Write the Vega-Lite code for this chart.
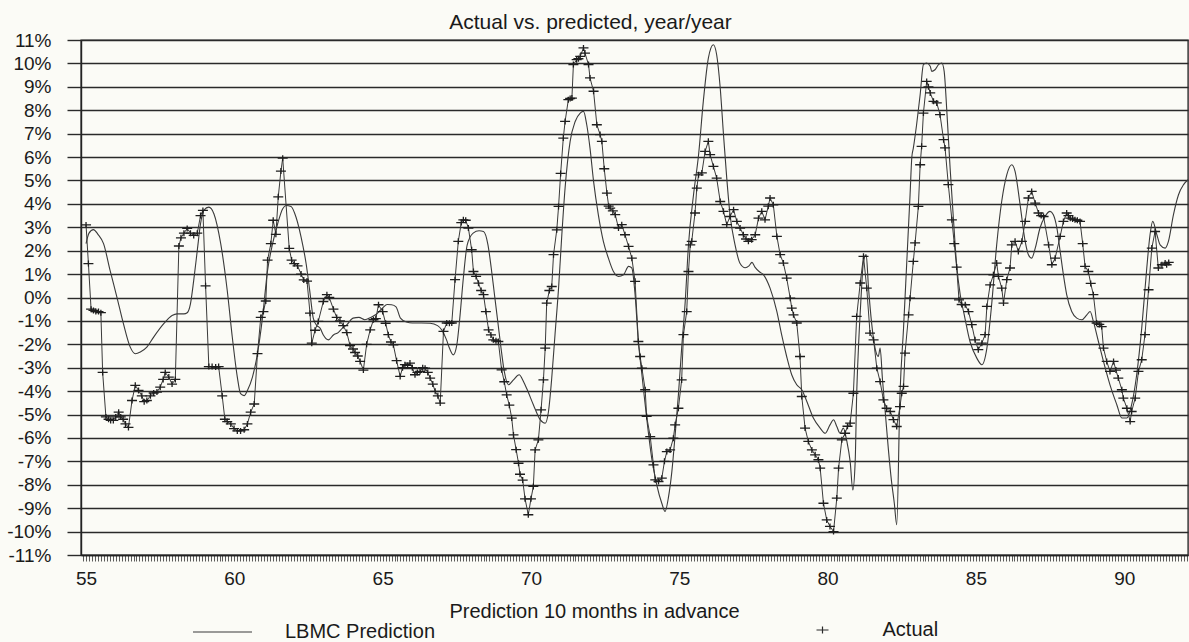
{
  "$schema": "https://vega.github.io/schema/vega-lite/v6.json",
  "width": 1107,
  "height": 515,
  "autosize": "none",
  "padding": {"left": 81, "top": 40, "right": 1, "bottom": 87},
  "background": "#fbfbf6",
  "title": {
    "text": "Actual vs. predicted, year/year",
    "font": "Liberation Sans",
    "fontSize": 21,
    "fontWeight": "normal",
    "color": "#1a1a1a",
    "anchor": "middle",
    "dx": -44,
    "dy": 6,
    "offset": 4
  },
  "config": {
    "font": "Liberation Sans",
    "view": {"stroke": "#2a2a2a", "strokeWidth": 1.4}
  },
  "datasets": {
    "prediction": [
      {"year": 55.0, "pct": 2.3}, {"year": 55.1, "pct": 2.75}, {"year": 55.25, "pct": 2.9}, {"year": 55.4, "pct": 2.7},
      {"year": 55.59, "pct": 2.3}, {"year": 55.81, "pct": 1.16}, {"year": 56.04, "pct": 0.02}, {"year": 56.26, "pct": -1.12},
      {"year": 56.49, "pct": -2.12}, {"year": 56.66, "pct": -2.4}, {"year": 56.83, "pct": -2.33}, {"year": 57.05, "pct": -2.12},
      {"year": 57.28, "pct": -1.69}, {"year": 57.62, "pct": -1.12}, {"year": 57.9, "pct": -0.77}, {"year": 58.07, "pct": -0.7},
      {"year": 58.3, "pct": -0.7}, {"year": 58.41, "pct": -0.65}, {"year": 58.52, "pct": -0.27}, {"year": 58.63, "pct": 0.73},
      {"year": 58.75, "pct": 2.01}, {"year": 58.86, "pct": 3.15}, {"year": 58.97, "pct": 3.72}, {"year": 59.14, "pct": 3.86},
      {"year": 59.31, "pct": 3.58}, {"year": 59.54, "pct": 2.3}, {"year": 59.76, "pct": 0.3}, {"year": 59.93, "pct": -1.69},
      {"year": 60.1, "pct": -3.4}, {"year": 60.21, "pct": -4.11}, {"year": 60.33, "pct": -4.19}, {"year": 60.44, "pct": -3.97},
      {"year": 60.61, "pct": -3.4}, {"year": 60.78, "pct": -2.4}, {"year": 60.95, "pct": -0.84}, {"year": 61.12, "pct": 1.16},
      {"year": 61.29, "pct": 2.3}, {"year": 61.46, "pct": 3.15}, {"year": 61.63, "pct": 3.79}, {"year": 61.74, "pct": 3.93},
      {"year": 61.91, "pct": 3.89}, {"year": 62.08, "pct": 3.43}, {"year": 62.25, "pct": 2.58}, {"year": 62.42, "pct": 1.44},
      {"year": 62.55, "pct": 0.2}, {"year": 62.66, "pct": -0.88}, {"year": 62.78, "pct": -1.2}, {"year": 62.89, "pct": -1.31},
      {"year": 63.0, "pct": -1.6}, {"year": 63.17, "pct": -1.81}, {"year": 63.34, "pct": -1.6}, {"year": 63.5, "pct": -1.5},
      {"year": 63.65, "pct": -1.3}, {"year": 63.79, "pct": -1.17}, {"year": 64.0, "pct": -0.88}, {"year": 64.2, "pct": -0.85},
      {"year": 64.4, "pct": -0.95}, {"year": 64.6, "pct": -0.85}, {"year": 64.8, "pct": -0.7}, {"year": 65.0, "pct": -0.45},
      {"year": 65.15, "pct": -0.3}, {"year": 65.3, "pct": -0.31}, {"year": 65.45, "pct": -0.4}, {"year": 65.6, "pct": -0.88},
      {"year": 65.8, "pct": -1.05}, {"year": 66.0, "pct": -1.09}, {"year": 66.3, "pct": -1.09}, {"year": 66.6, "pct": -1.1},
      {"year": 66.85, "pct": -1.2}, {"year": 67.0, "pct": -1.4}, {"year": 67.15, "pct": -1.8}, {"year": 67.25, "pct": -2.16},
      {"year": 67.38, "pct": -2.45}, {"year": 67.5, "pct": -2.02}, {"year": 67.6, "pct": -0.88}, {"year": 67.72, "pct": 0.83},
      {"year": 67.85, "pct": 2.25}, {"year": 68.05, "pct": 2.75}, {"year": 68.25, "pct": 2.85}, {"year": 68.4, "pct": 2.82},
      {"year": 68.55, "pct": 2.25}, {"year": 68.66, "pct": 1.26}, {"year": 68.77, "pct": 0.12}, {"year": 68.88, "pct": -1.02},
      {"year": 68.99, "pct": -2.16}, {"year": 69.1, "pct": -3.16}, {"year": 69.24, "pct": -3.73}, {"year": 69.41, "pct": -3.52},
      {"year": 69.6, "pct": -3.3}, {"year": 69.75, "pct": -3.6}, {"year": 69.86, "pct": -3.9}, {"year": 70.08, "pct": -4.58},
      {"year": 70.31, "pct": -5.22}, {"year": 70.48, "pct": -5.37}, {"year": 70.59, "pct": -4.87}, {"year": 70.7, "pct": -3.44},
      {"year": 70.81, "pct": -1.59}, {"year": 70.93, "pct": 0.4}, {"year": 71.04, "pct": 2.68}, {"year": 71.15, "pct": 4.68},
      {"year": 71.32, "pct": 6.67}, {"year": 71.49, "pct": 7.52}, {"year": 71.66, "pct": 7.88}, {"year": 71.77, "pct": 7.95},
      {"year": 71.88, "pct": 7.38}, {"year": 71.99, "pct": 6.38}, {"year": 72.11, "pct": 4.96}, {"year": 72.27, "pct": 3.54},
      {"year": 72.44, "pct": 2.4}, {"year": 72.61, "pct": 1.68}, {"year": 72.78, "pct": 1.11}, {"year": 72.95, "pct": 0.9},
      {"year": 73.12, "pct": 0.97}, {"year": 73.29, "pct": 1.33}, {"year": 73.4, "pct": 1.26}, {"year": 73.51, "pct": 0.12},
      {"year": 73.62, "pct": -1.88}, {"year": 73.74, "pct": -3.3}, {"year": 73.9, "pct": -5.15}, {"year": 74.07, "pct": -6.86},
      {"year": 74.24, "pct": -8.0}, {"year": 74.41, "pct": -8.79}, {"year": 74.52, "pct": -9.14}, {"year": 74.63, "pct": -8.57},
      {"year": 74.75, "pct": -7.43}, {"year": 74.86, "pct": -5.87}, {"year": 74.97, "pct": -4.16}, {"year": 75.08, "pct": -2.16},
      {"year": 75.2, "pct": -0.17}, {"year": 75.31, "pct": 2.25}, {"year": 75.48, "pct": 4.39}, {"year": 75.65, "pct": 6.1},
      {"year": 75.81, "pct": 8.38}, {"year": 75.98, "pct": 10.23}, {"year": 76.15, "pct": 10.8}, {"year": 76.26, "pct": 10.37},
      {"year": 76.38, "pct": 8.95}, {"year": 76.49, "pct": 6.96}, {"year": 76.6, "pct": 5.1}, {"year": 76.71, "pct": 3.54},
      {"year": 76.88, "pct": 2.25}, {"year": 77.05, "pct": 1.45}, {"year": 77.22, "pct": 1.27}, {"year": 77.35, "pct": 1.35},
      {"year": 77.45, "pct": 1.5}, {"year": 77.55, "pct": 1.3}, {"year": 77.7, "pct": 1.1}, {"year": 77.84, "pct": 0.97},
      {"year": 78.06, "pct": 0.4}, {"year": 78.29, "pct": -0.6}, {"year": 78.45, "pct": -1.59}, {"year": 78.62, "pct": -2.52},
      {"year": 78.79, "pct": -3.3}, {"year": 78.96, "pct": -3.73}, {"year": 79.13, "pct": -3.94}, {"year": 79.3, "pct": -4.44},
      {"year": 79.52, "pct": -5.15}, {"year": 79.75, "pct": -5.58}, {"year": 79.92, "pct": -5.8}, {"year": 80.08, "pct": -5.44},
      {"year": 80.2, "pct": -5.22}, {"year": 80.31, "pct": -5.51}, {"year": 80.42, "pct": -5.8}, {"year": 80.53, "pct": -5.58},
      {"year": 80.65, "pct": -6.15}, {"year": 80.76, "pct": -7.0}, {"year": 80.85, "pct": -8.22}, {"year": 80.93, "pct": -7.0},
      {"year": 80.98, "pct": -4.16}, {"year": 81.04, "pct": -2.16}, {"year": 81.12, "pct": -0.17}, {"year": 81.21, "pct": 1.54},
      {"year": 81.3, "pct": 1.83}, {"year": 81.38, "pct": 0.4}, {"year": 81.49, "pct": -1.16}, {"year": 81.6, "pct": -2.16},
      {"year": 81.71, "pct": -2.52}, {"year": 81.77, "pct": -2.16}, {"year": 81.85, "pct": -3.5}, {"year": 81.95, "pct": -5.0},
      {"year": 82.05, "pct": -6.5}, {"year": 82.15, "pct": -7.8}, {"year": 82.25, "pct": -8.8}, {"year": 82.33, "pct": -9.71},
      {"year": 82.44, "pct": -4.16}, {"year": 82.56, "pct": -1.31}, {"year": 82.67, "pct": 1.54}, {"year": 82.78, "pct": 4.39},
      {"year": 82.84, "pct": 6.0}, {"year": 82.89, "pct": 6.38}, {"year": 83.0, "pct": 7.38}, {"year": 83.12, "pct": 8.66},
      {"year": 83.23, "pct": 9.95}, {"year": 83.34, "pct": 10.02}, {"year": 83.46, "pct": 9.88}, {"year": 83.51, "pct": 9.66},
      {"year": 83.62, "pct": 9.73}, {"year": 83.74, "pct": 9.95}, {"year": 83.85, "pct": 10.02}, {"year": 83.93, "pct": 9.66},
      {"year": 84.02, "pct": 7.95}, {"year": 84.13, "pct": 5.53}, {"year": 84.24, "pct": 3.39}, {"year": 84.35, "pct": 1.4},
      {"year": 84.47, "pct": 0.12}, {"year": 84.6, "pct": -0.7}, {"year": 84.8, "pct": -1.88}, {"year": 85.03, "pct": -2.59},
      {"year": 85.2, "pct": -2.87}, {"year": 85.37, "pct": -2.16}, {"year": 85.53, "pct": -0.31}, {"year": 85.7, "pct": 2.25},
      {"year": 85.87, "pct": 4.11}, {"year": 86.04, "pct": 5.24}, {"year": 86.21, "pct": 5.67}, {"year": 86.32, "pct": 5.39},
      {"year": 86.49, "pct": 3.96}, {"year": 86.66, "pct": 2.4}, {"year": 86.77, "pct": 1.83}, {"year": 86.88, "pct": 1.68},
      {"year": 87.0, "pct": 2.11}, {"year": 87.16, "pct": 2.97}, {"year": 87.33, "pct": 3.46}, {"year": 87.5, "pct": 3.68},
      {"year": 87.61, "pct": 3.54}, {"year": 87.73, "pct": 2.97}, {"year": 87.84, "pct": 1.97}, {"year": 87.95, "pct": 0.97},
      {"year": 88.06, "pct": 0.12}, {"year": 88.23, "pct": -0.6}, {"year": 88.4, "pct": -0.88}, {"year": 88.57, "pct": -0.95},
      {"year": 88.74, "pct": -0.74}, {"year": 88.85, "pct": -0.6}, {"year": 88.96, "pct": -1.02}, {"year": 89.13, "pct": -1.88},
      {"year": 89.3, "pct": -2.73}, {"year": 89.52, "pct": -3.73}, {"year": 89.75, "pct": -4.58}, {"year": 89.92, "pct": -5.15},
      {"year": 90.09, "pct": -5.15}, {"year": 90.25, "pct": -4.58}, {"year": 90.42, "pct": -3.3}, {"year": 90.59, "pct": -1.31},
      {"year": 90.76, "pct": 1.26}, {"year": 90.87, "pct": 2.68}, {"year": 90.96, "pct": 3.25}, {"year": 91.1, "pct": 2.68},
      {"year": 91.21, "pct": 2.25}, {"year": 91.38, "pct": 2.11}, {"year": 91.49, "pct": 2.4}, {"year": 91.66, "pct": 3.54},
      {"year": 91.83, "pct": 4.39}, {"year": 92.0, "pct": 4.82}, {"year": 92.15, "pct": 5.03}
    ],
    "actual": [
      {"year": 55.0, "pct": 3.1}, {"year": 55.08, "pct": 1.45}, {"year": 55.17, "pct": -0.5}, {"year": 55.25, "pct": -0.55},
      {"year": 55.33, "pct": -0.6}, {"year": 55.42, "pct": -0.6}, {"year": 55.5, "pct": -0.65}, {"year": 55.56, "pct": -3.2},
      {"year": 55.67, "pct": -5.1}, {"year": 55.76, "pct": -5.2}, {"year": 55.83, "pct": -5.25}, {"year": 55.92, "pct": -5.25},
      {"year": 56.0, "pct": -5.1}, {"year": 56.1, "pct": -4.9}, {"year": 56.17, "pct": -5.1}, {"year": 56.25, "pct": -5.2},
      {"year": 56.33, "pct": -5.4}, {"year": 56.43, "pct": -5.55}, {"year": 56.55, "pct": -4.4}, {"year": 56.66, "pct": -3.75},
      {"year": 56.77, "pct": -3.97}, {"year": 56.88, "pct": -4.2}, {"year": 56.96, "pct": -4.45}, {"year": 57.05, "pct": -4.4},
      {"year": 57.17, "pct": -4.2}, {"year": 57.28, "pct": -4.08}, {"year": 57.39, "pct": -4.04}, {"year": 57.5, "pct": -3.83},
      {"year": 57.6, "pct": -3.5}, {"year": 57.67, "pct": -3.2}, {"year": 57.79, "pct": -3.4}, {"year": 57.9, "pct": -3.7},
      {"year": 58.01, "pct": -3.5}, {"year": 58.13, "pct": 2.2}, {"year": 58.2, "pct": 2.55}, {"year": 58.3, "pct": 2.75},
      {"year": 58.41, "pct": 2.95}, {"year": 58.52, "pct": 2.75}, {"year": 58.63, "pct": 2.65}, {"year": 58.75, "pct": 2.75},
      {"year": 58.86, "pct": 3.5}, {"year": 58.94, "pct": 3.72}, {"year": 59.03, "pct": 0.5}, {"year": 59.14, "pct": -2.95},
      {"year": 59.25, "pct": -2.95}, {"year": 59.37, "pct": -2.97}, {"year": 59.47, "pct": -2.95}, {"year": 59.59, "pct": -4.2},
      {"year": 59.68, "pct": -5.2}, {"year": 59.76, "pct": -5.3}, {"year": 59.88, "pct": -5.4}, {"year": 59.99, "pct": -5.6},
      {"year": 60.1, "pct": -5.7}, {"year": 60.21, "pct": -5.7}, {"year": 60.33, "pct": -5.65}, {"year": 60.44, "pct": -5.4},
      {"year": 60.55, "pct": -4.9}, {"year": 60.67, "pct": -4.55}, {"year": 60.78, "pct": -2.4}, {"year": 60.89, "pct": -0.85},
      {"year": 60.98, "pct": -0.6}, {"year": 61.06, "pct": -0.15}, {"year": 61.12, "pct": 1.6}, {"year": 61.23, "pct": 2.3},
      {"year": 61.31, "pct": 3.3}, {"year": 61.4, "pct": 2.7}, {"year": 61.48, "pct": 4.3}, {"year": 61.57, "pct": 5.4},
      {"year": 61.63, "pct": 5.95}, {"year": 61.85, "pct": 2.1}, {"year": 61.93, "pct": 1.6}, {"year": 62.02, "pct": 1.45},
      {"year": 62.13, "pct": 1.35}, {"year": 62.25, "pct": 1.0}, {"year": 62.34, "pct": 0.75}, {"year": 62.45, "pct": 0.7},
      {"year": 62.55, "pct": -0.67}, {"year": 62.61, "pct": -1.95}, {"year": 62.72, "pct": -1.4}, {"year": 62.83, "pct": -1.02},
      {"year": 63.0, "pct": -0.17}, {"year": 63.12, "pct": 0.12}, {"year": 63.2, "pct": 0.0}, {"year": 63.34, "pct": -0.5},
      {"year": 63.45, "pct": -0.85}, {"year": 63.56, "pct": -1.0}, {"year": 63.67, "pct": -1.2}, {"year": 63.79, "pct": -1.5},
      {"year": 63.9, "pct": -2.05}, {"year": 64.0, "pct": -2.2}, {"year": 64.07, "pct": -2.35}, {"year": 64.16, "pct": -2.5},
      {"year": 64.24, "pct": -2.73}, {"year": 64.35, "pct": -3.1}, {"year": 64.46, "pct": -2.0}, {"year": 64.58, "pct": -1.38},
      {"year": 64.69, "pct": -0.95}, {"year": 64.77, "pct": -0.9}, {"year": 64.86, "pct": -0.31}, {"year": 65.0, "pct": -0.6},
      {"year": 65.1, "pct": -1.1}, {"year": 65.19, "pct": -1.59}, {"year": 65.28, "pct": -1.9}, {"year": 65.36, "pct": -2.02},
      {"year": 65.47, "pct": -2.7}, {"year": 65.59, "pct": -3.37}, {"year": 65.67, "pct": -3.0}, {"year": 65.75, "pct": -2.87},
      {"year": 65.84, "pct": -2.9}, {"year": 65.92, "pct": -2.8}, {"year": 66.0, "pct": -3.0}, {"year": 66.09, "pct": -3.3},
      {"year": 66.17, "pct": -3.2}, {"year": 66.26, "pct": -3.16}, {"year": 66.35, "pct": -3.0}, {"year": 66.43, "pct": -3.02},
      {"year": 66.52, "pct": -3.2}, {"year": 66.6, "pct": -3.44}, {"year": 66.69, "pct": -3.7}, {"year": 66.77, "pct": -4.01},
      {"year": 66.86, "pct": -4.2}, {"year": 66.94, "pct": -4.51}, {"year": 67.05, "pct": -1.45}, {"year": 67.16, "pct": -1.09},
      {"year": 67.25, "pct": -1.1}, {"year": 67.33, "pct": -1.09}, {"year": 67.44, "pct": 0.76}, {"year": 67.55, "pct": 2.4},
      {"year": 67.65, "pct": 3.2}, {"year": 67.72, "pct": 3.32}, {"year": 67.8, "pct": 3.3}, {"year": 67.89, "pct": 2.97},
      {"year": 68.0, "pct": 2.04}, {"year": 68.06, "pct": 1.11}, {"year": 68.15, "pct": 0.9}, {"year": 68.23, "pct": 0.61},
      {"year": 68.32, "pct": 0.3}, {"year": 68.4, "pct": 0.12}, {"year": 68.48, "pct": -0.6}, {"year": 68.57, "pct": -1.38},
      {"year": 68.65, "pct": -1.6}, {"year": 68.73, "pct": -1.81}, {"year": 68.82, "pct": -1.85}, {"year": 68.9, "pct": -1.88},
      {"year": 69.01, "pct": -3.09}, {"year": 69.1, "pct": -3.6}, {"year": 69.18, "pct": -4.16}, {"year": 69.27, "pct": -4.6},
      {"year": 69.35, "pct": -5.15}, {"year": 69.41, "pct": -5.87}, {"year": 69.5, "pct": -6.5}, {"year": 69.58, "pct": -7.08},
      {"year": 69.63, "pct": -7.55}, {"year": 69.72, "pct": -7.8}, {"year": 69.8, "pct": -8.6}, {"year": 69.91, "pct": -9.28},
      {"year": 70.0, "pct": -8.6}, {"year": 70.08, "pct": -8.07}, {"year": 70.14, "pct": -6.51}, {"year": 70.25, "pct": -6.08},
      {"year": 70.34, "pct": -4.8}, {"year": 70.42, "pct": -3.52}, {"year": 70.48, "pct": -2.16}, {"year": 70.53, "pct": -0.24},
      {"year": 70.62, "pct": 0.3}, {"year": 70.7, "pct": 0.47}, {"year": 70.76, "pct": 1.83}, {"year": 70.87, "pct": 2.89},
      {"year": 70.93, "pct": 3.89}, {"year": 71.0, "pct": 5.3}, {"year": 71.09, "pct": 6.81}, {"year": 71.15, "pct": 7.52},
      {"year": 71.26, "pct": 8.45}, {"year": 71.32, "pct": 8.5}, {"year": 71.38, "pct": 8.52}, {"year": 71.43, "pct": 9.95},
      {"year": 71.54, "pct": 10.16}, {"year": 71.6, "pct": 10.2}, {"year": 71.66, "pct": 10.3}, {"year": 71.77, "pct": 10.66},
      {"year": 71.82, "pct": 10.44}, {"year": 71.94, "pct": 9.95}, {"year": 71.99, "pct": 9.38}, {"year": 72.11, "pct": 8.81},
      {"year": 72.22, "pct": 7.38}, {"year": 72.33, "pct": 6.96}, {"year": 72.39, "pct": 6.67}, {"year": 72.47, "pct": 5.5},
      {"year": 72.56, "pct": 4.46}, {"year": 72.62, "pct": 3.9}, {"year": 72.67, "pct": 3.82}, {"year": 72.76, "pct": 3.7},
      {"year": 72.84, "pct": 3.54}, {"year": 72.95, "pct": 2.97}, {"year": 73.06, "pct": 3.11}, {"year": 73.17, "pct": 2.68},
      {"year": 73.29, "pct": 2.18}, {"year": 73.4, "pct": 1.68}, {"year": 73.51, "pct": 0.69}, {"year": 73.62, "pct": -1.88},
      {"year": 73.68, "pct": -2.52}, {"year": 73.74, "pct": -3.02}, {"year": 73.85, "pct": -3.94}, {"year": 73.9, "pct": -5.08},
      {"year": 74.02, "pct": -5.94}, {"year": 74.13, "pct": -7.15}, {"year": 74.19, "pct": -7.79}, {"year": 74.3, "pct": -7.86},
      {"year": 74.41, "pct": -7.72}, {"year": 74.5, "pct": -7.0}, {"year": 74.58, "pct": -6.58}, {"year": 74.69, "pct": -6.51},
      {"year": 74.8, "pct": -6.01}, {"year": 74.86, "pct": -5.44}, {"year": 74.97, "pct": -4.73}, {"year": 75.08, "pct": -3.52},
      {"year": 75.14, "pct": -1.59}, {"year": 75.25, "pct": -0.6}, {"year": 75.31, "pct": 1.11}, {"year": 75.37, "pct": 2.25},
      {"year": 75.42, "pct": 2.4}, {"year": 75.53, "pct": 3.61}, {"year": 75.59, "pct": 4.67}, {"year": 75.65, "pct": 5.24},
      {"year": 75.76, "pct": 5.32}, {"year": 75.87, "pct": 6.24}, {"year": 75.98, "pct": 6.67}, {"year": 76.04, "pct": 6.1},
      {"year": 76.15, "pct": 5.6}, {"year": 76.26, "pct": 5.1}, {"year": 76.38, "pct": 4.1}, {"year": 76.49, "pct": 3.68},
      {"year": 76.6, "pct": 3.11}, {"year": 76.71, "pct": 3.46}, {"year": 76.83, "pct": 3.75}, {"year": 76.94, "pct": 3.25},
      {"year": 77.05, "pct": 2.97}, {"year": 77.16, "pct": 2.68}, {"year": 77.25, "pct": 2.5}, {"year": 77.33, "pct": 2.4},
      {"year": 77.44, "pct": 2.47}, {"year": 77.56, "pct": 2.68}, {"year": 77.67, "pct": 3.39}, {"year": 77.78, "pct": 3.68},
      {"year": 77.89, "pct": 3.32}, {"year": 78.0, "pct": 3.9}, {"year": 78.06, "pct": 4.25}, {"year": 78.17, "pct": 3.96},
      {"year": 78.29, "pct": 2.61}, {"year": 78.4, "pct": 1.83}, {"year": 78.51, "pct": 1.47}, {"year": 78.62, "pct": 0.83},
      {"year": 78.74, "pct": -0.03}, {"year": 78.79, "pct": -0.45}, {"year": 78.85, "pct": -0.74}, {"year": 78.96, "pct": -1.09},
      {"year": 79.07, "pct": -2.52}, {"year": 79.13, "pct": -4.23}, {"year": 79.24, "pct": -5.58}, {"year": 79.35, "pct": -6.15},
      {"year": 79.47, "pct": -6.51}, {"year": 79.58, "pct": -6.72}, {"year": 79.69, "pct": -6.93}, {"year": 79.75, "pct": -7.29},
      {"year": 79.86, "pct": -8.79}, {"year": 79.97, "pct": -9.5}, {"year": 80.08, "pct": -9.78}, {"year": 80.2, "pct": -10.0},
      {"year": 80.31, "pct": -8.57}, {"year": 80.37, "pct": -7.29}, {"year": 80.48, "pct": -6.08}, {"year": 80.59, "pct": -5.8},
      {"year": 80.67, "pct": -5.5}, {"year": 80.76, "pct": -5.37}, {"year": 80.87, "pct": -4.09}, {"year": 80.98, "pct": -0.81},
      {"year": 81.1, "pct": 0.62}, {"year": 81.21, "pct": 1.76}, {"year": 81.32, "pct": 0.4}, {"year": 81.43, "pct": -1.52},
      {"year": 81.55, "pct": -1.81}, {"year": 81.66, "pct": -3.02}, {"year": 81.77, "pct": -3.59}, {"year": 81.88, "pct": -4.37},
      {"year": 81.99, "pct": -4.73}, {"year": 82.11, "pct": -4.87}, {"year": 82.22, "pct": -5.22}, {"year": 82.33, "pct": -5.51},
      {"year": 82.44, "pct": -4.66}, {"year": 82.5, "pct": -4.09}, {"year": 82.56, "pct": -3.8}, {"year": 82.61, "pct": -2.38},
      {"year": 82.73, "pct": -0.74}, {"year": 82.78, "pct": -0.03}, {"year": 82.89, "pct": 1.54}, {"year": 82.95, "pct": 2.33},
      {"year": 83.06, "pct": 3.89}, {"year": 83.12, "pct": 5.67}, {"year": 83.17, "pct": 6.46}, {"year": 83.23, "pct": 7.88},
      {"year": 83.34, "pct": 9.23}, {"year": 83.4, "pct": 9.0}, {"year": 83.46, "pct": 8.74}, {"year": 83.57, "pct": 8.38},
      {"year": 83.68, "pct": 8.31}, {"year": 83.79, "pct": 7.81}, {"year": 83.91, "pct": 6.74}, {"year": 83.96, "pct": 6.39},
      {"year": 84.07, "pct": 4.82}, {"year": 84.19, "pct": 3.32}, {"year": 84.27, "pct": 2.3}, {"year": 84.35, "pct": 1.3},
      {"year": 84.43, "pct": -0.1}, {"year": 84.52, "pct": -0.3}, {"year": 84.64, "pct": -0.31}, {"year": 84.75, "pct": -0.6},
      {"year": 84.86, "pct": -1.16}, {"year": 84.97, "pct": -1.81}, {"year": 85.08, "pct": -2.23}, {"year": 85.2, "pct": -1.95},
      {"year": 85.31, "pct": -1.59}, {"year": 85.37, "pct": -0.38}, {"year": 85.48, "pct": 0.54}, {"year": 85.59, "pct": 0.97},
      {"year": 85.7, "pct": 1.47}, {"year": 85.76, "pct": 0.9}, {"year": 85.87, "pct": 0.4}, {"year": 85.93, "pct": -0.24},
      {"year": 86.04, "pct": 0.76}, {"year": 86.15, "pct": 1.26}, {"year": 86.21, "pct": 2.25}, {"year": 86.32, "pct": 2.4},
      {"year": 86.43, "pct": 1.97}, {"year": 86.55, "pct": 2.4}, {"year": 86.66, "pct": 3.25}, {"year": 86.77, "pct": 4.25},
      {"year": 86.88, "pct": 4.53}, {"year": 87.0, "pct": 4.03}, {"year": 87.11, "pct": 3.61}, {"year": 87.2, "pct": 3.5},
      {"year": 87.28, "pct": 3.46}, {"year": 87.45, "pct": 2.25}, {"year": 87.56, "pct": 1.4}, {"year": 87.67, "pct": 1.68},
      {"year": 87.84, "pct": 2.61}, {"year": 87.95, "pct": 3.25}, {"year": 88.06, "pct": 3.61}, {"year": 88.12, "pct": 3.5},
      {"year": 88.18, "pct": 3.39}, {"year": 88.26, "pct": 3.35}, {"year": 88.34, "pct": 3.32}, {"year": 88.42, "pct": 3.3},
      {"year": 88.51, "pct": 3.25}, {"year": 88.6, "pct": 2.3}, {"year": 88.68, "pct": 1.33}, {"year": 88.79, "pct": 1.11},
      {"year": 88.87, "pct": 0.6}, {"year": 88.96, "pct": 0.12}, {"year": 89.07, "pct": -1.09}, {"year": 89.16, "pct": -1.15},
      {"year": 89.24, "pct": -1.24}, {"year": 89.3, "pct": -2.16}, {"year": 89.41, "pct": -2.73}, {"year": 89.52, "pct": -3.16},
      {"year": 89.64, "pct": -2.73}, {"year": 89.72, "pct": -3.1}, {"year": 89.8, "pct": -3.44}, {"year": 89.92, "pct": -3.94},
      {"year": 89.97, "pct": -4.3}, {"year": 90.09, "pct": -4.73}, {"year": 90.2, "pct": -5.3}, {"year": 90.25, "pct": -4.87},
      {"year": 90.37, "pct": -4.3}, {"year": 90.48, "pct": -3.16}, {"year": 90.59, "pct": -2.66}, {"year": 90.7, "pct": -1.59},
      {"year": 90.82, "pct": 0.33}, {"year": 90.93, "pct": 2.11}, {"year": 91.04, "pct": 2.82}, {"year": 91.15, "pct": 1.26},
      {"year": 91.27, "pct": 1.4}, {"year": 91.38, "pct": 1.47}, {"year": 91.43, "pct": 1.4}, {"year": 91.5, "pct": 1.5}
    ]
  },
  "encoding": {
    "x": {
      "field": "year",
      "type": "quantitative",
      "scale": {"domain": [54.83, 92.15], "nice": false, "zero": false},
      "axis": {
        "tickCount": 380,
        "labelExpr": "abs(datum.value / 5 - round(datum.value / 5)) < 0.01 ? format(round(datum.value), 'd') : ''",
        "labelOverlap": false,
        "labelFlush": false,
        "labelBound": false,
        "grid": false,
        "tickSize": 6,
        "tickWidth": 0.8,
        "tickColor": "#333333",
        "domainColor": "#222222",
        "domainWidth": 1.4,
        "labelFont": "Liberation Sans",
        "labelFontSize": 19,
        "labelPadding": 8,
        "labelColor": "#1a1a1a",
        "title": "Prediction 10 months in advance",
        "titleFont": "Liberation Sans",
        "titleFontSize": 20,
        "titleFontWeight": "normal",
        "titleColor": "#1a1a1a",
        "titleX": 513,
        "titleY": 62,
        "titleAlign": "center",
        "titleBaseline": "alphabetic"
      }
    },
    "y": {
      "field": "pct",
      "type": "quantitative",
      "scale": {"domain": [-11, 11], "nice": false, "zero": false},
      "axis": {
        "values": [-11, -10, -9, -8, -7, -6, -5, -4, -3, -2, -1, 0, 1, 2, 3, 4, 5, 6, 7, 8, 9, 10, 11],
        "labelExpr": "datum.value + '%'",
        "grid": true,
        "gridColor": "#2a2a2a",
        "gridWidth": 1.4,
        "tickSize": 14,
        "tickColor": "#2a2a2a",
        "tickWidth": 1.4,
        "domainColor": "#222222",
        "domainWidth": 1.4,
        "labelFont": "Liberation Sans",
        "labelFontSize": 19,
        "labelPadding": 16,
        "labelColor": "#1a1a1a",
        "title": null
      }
    }
  },
  "layer": [
    {
      "data": {"name": "prediction"},
      "mark": {"type": "line", "strokeWidth": 1.1, "interpolate": "monotone"},
      "encoding": {
        "color": {
          "datum": "LBMC Prediction",
          "type": "nominal",
          "scale": {"range": ["#3a3a3a"]},
          "legend": {
            "orient": "none",
            "legendX": 111,
            "legendY": 561.5,
            "title": null,
            "padding": 0,
            "symbolType": "stroke",
            "symbolSize": 3481,
            "symbolStrokeWidth": 1.2,
            "symbolStrokeColor": "#2a2a2a",
            "labelFont": "Liberation Sans",
            "labelFontSize": 20,
            "labelColor": "#1a1a1a",
            "labelOffset": 32,
            "labelLimit": 400
          }
        }
      }
    },
    {
      "data": {"name": "actual"},
      "mark": {"type": "line", "strokeWidth": 1.0, "color": "#3a3a3a"},
      "encoding": {}
    },
    {
      "data": {"name": "actual"},
      "mark": {"type": "point", "filled": false, "size": 100, "strokeWidth": 1.3, "color": "#1e1e1e", "opacity": 1},
      "encoding": {
        "shape": {
          "datum": "Actual",
          "type": "nominal",
          "scale": {"range": ["M-1,0L1,0M0,-0.6L0,0.6"]},
          "legend": {
            "orient": "none",
            "legendX": 731.5,
            "legendY": 580,
            "title": null,
            "padding": 0,
            "symbolSize": 144,
            "symbolStrokeWidth": 1.2,
            "symbolStrokeColor": "#2a2a2a",
            "labelFont": "Liberation Sans",
            "labelFontSize": 20,
            "labelColor": "#1a1a1a",
            "labelOffset": 50,
            "labelLimit": 400
          }
        }
      }
    }
  ]
}
